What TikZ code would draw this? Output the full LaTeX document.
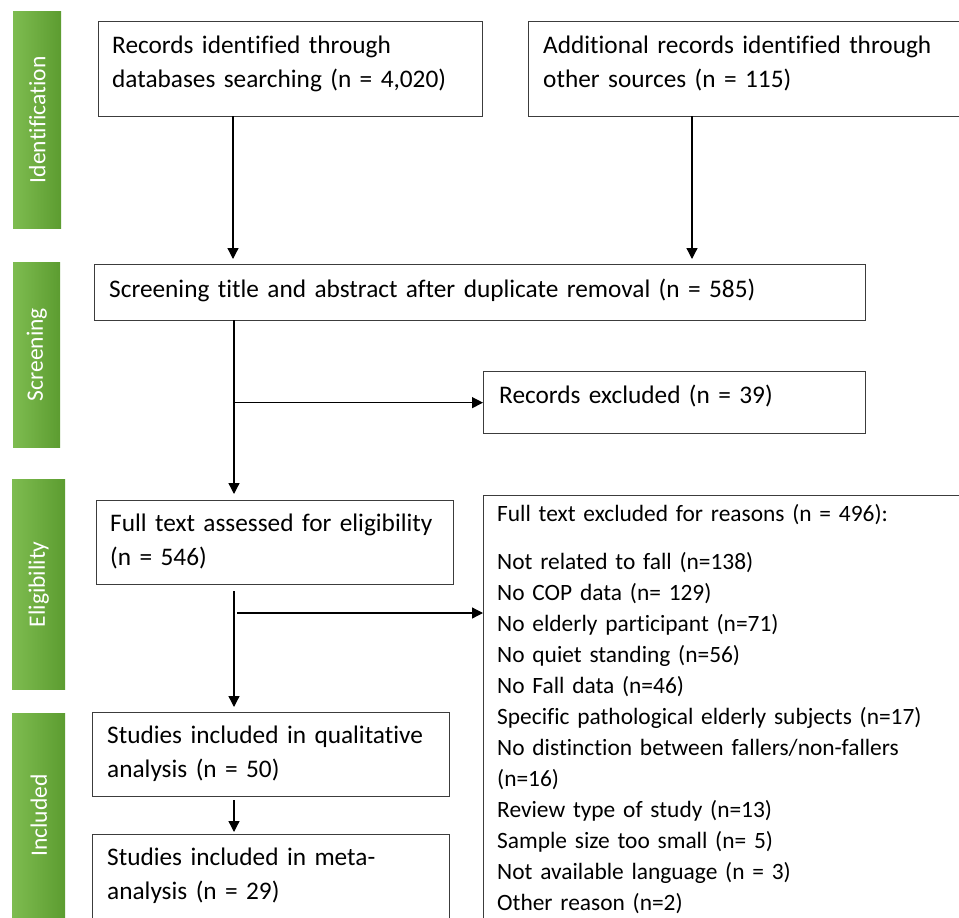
\documentclass[tikz,border=0pt]{standalone}
\usepackage{fontspec}
\setmainfont{Carlito}[Ligatures=NoCommon]
\usetikzlibrary{arrows.meta,calc}
\definecolor{boxgray}{RGB}{60,60,60}
\definecolor{glight}{RGB}{126,188,80}
\definecolor{gdark}{RGB}{92,156,48}
\begin{document}
\begin{tikzpicture}[x=1pt,y=-1pt,
  box/.style={draw=boxgray,line width=1.3pt,inner sep=0pt,anchor=north west},
  txt/.style={anchor=base west,inner sep=0pt,align=left,text width=#1,font=\fontsize{25.3}{34}\selectfont},
  txt/.default=440pt,
  arr/.style={draw=black,line width=1.3pt,-{Triangle[length=11pt,width=11pt]}},
  phase/.style={left color=glight,right color=gdark,draw=none,inner sep=0pt,anchor=north west},
  phaselbl/.style={rotate=90,text=white,inner sep=0pt,font=\fontsize{23.5}{28}\selectfont}]
\useasboundingbox[fill=white] (0,0) rectangle (959,918);

% phase bars
\node[phase,minimum width=48pt,minimum height=217pt] (p1) at (13,11) {};
\node[phaselbl] (l1) at (p1.center) {Identification};
\node[phase,minimum width=47pt,minimum height=185pt] (p2) at (13,262) {};
\node[phaselbl] (l2) at (p2.center) {Screening};
\node[phase,minimum width=53pt,minimum height=210pt] (p3) at (12,479) {};
\node[phaselbl] (l3) at (p3.center) {Eligibility};
\node[phase,minimum width=53pt,minimum height=212pt] (p4) at (12,713) {};
\node[phaselbl] (l4) at ($(p4.north)!0.5!(p4.north |- 0,918)$) {Included};

% boxes
\node[box,minimum width=384pt,minimum height=95pt] (A) at (98,21) {};
\node[box,minimum width=440pt,minimum height=95pt] (B) at (528,21) {};
\node[box,minimum width=771pt,minimum height=56pt] (C) at (94,264) {};
\node[box,minimum width=382pt,minimum height=62pt] (D) at (483,371) {};
\node[box,minimum width=357pt,minimum height=84pt] (E) at (96,500) {};
\node[box,minimum width=485pt,minimum height=440pt] (F) at (483,495) {};
\node[box,minimum width=357pt,minimum height=84pt] (G) at (92,712) {};
\node[box,minimum width=357pt,minimum height=100pt] (H) at (92,834) {};

% texts
\node[txt] (tA) at (112,53) {Records identified through\\databases searching (n = 4,020)};
\node[txt] (tB) at (543,53) {Additional records identified through\\other sources (n = 115)};
\node[txt=740pt] (tC) at (109,297) {Screening title and abstract after duplicate removal (n = 585)};
\node[txt] (tD) at (499,403) {Records excluded (n = 39)};
\node[txt] (tE) at (110,531) {Full text assessed for eligibility\\(n = 546)};
\node[txt=500pt,font=\fontsize{23.4}{31}\selectfont] (tF) at (497,521) {Full text excluded for reasons (n = 496):\\[17pt]
Not related to fall (n=138)\\
No COP data (n= 129)\\
No elderly participant (n=71)\\
No quiet standing (n=56)\\
No Fall data (n=46)\\
Specific pathological elderly subjects (n=17)\\
No distinction between fallers/non-fallers\\
(n=16)\\
Review type of study (n=13)\\
Sample size too small (n= 5)\\
Not available language (n = 3)\\
Other reason (n=2)};
\node[txt] (tG) at (107,743) {Studies included in qualitative\\analysis (n = 50)};
\node[txt] (tH) at (107,865) {Studies included in meta-\\analysis (n = 29)};

% connectors
\coordinate (a1) at (233,116);
\draw[arr,shorten >=5pt] (a1) -- (a1 |- C.north);
\coordinate (b1) at (692,116);
\draw[arr,shorten >=5pt] (b1) -- (b1 |- C.north);
\coordinate (c1) at (234,320);
\draw[arr,shorten >=6pt] (c1) -- (c1 |- E.north);
\draw[arr] (c1 |- D.west) -- (D.west);
\coordinate (e1) at (234,591);
\draw[arr,shorten >=5pt] (e1) -- (e1 |- G.north);
\coordinate (e2) at (237,613);
\draw[arr] (e2) -- (e2 -| F.west);
\coordinate (g1) at (234,800);
\draw[arr,shorten >=2pt] (g1) -- (g1 |- H.north);
\end{tikzpicture}
\end{document}
